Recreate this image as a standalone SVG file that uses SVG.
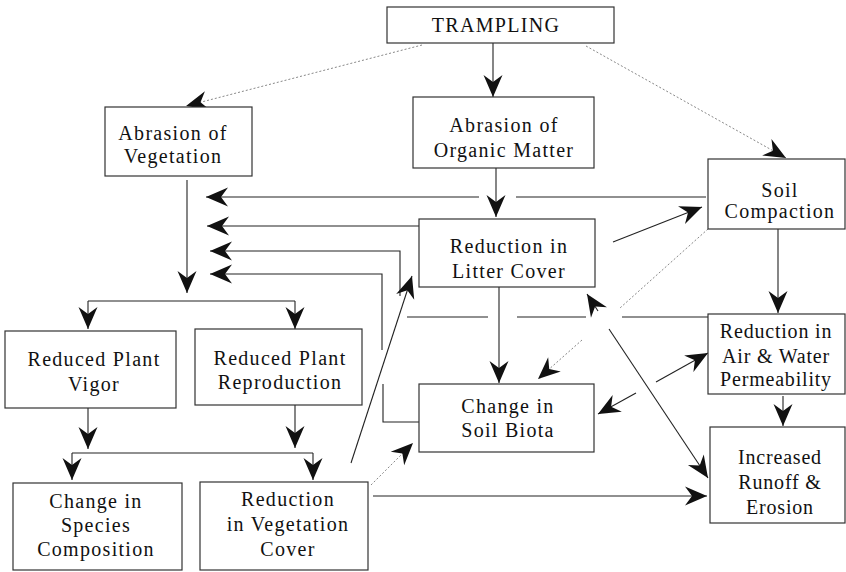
<svg xmlns="http://www.w3.org/2000/svg" width="846" height="572" viewBox="0 0 846 572">
<defs>
<marker id="ah" viewBox="-24 -12 26 24" refX="0" refY="0" markerWidth="26" markerHeight="24" markerUnits="userSpaceOnUse" orient="auto-start-reverse">
<path d="M0,0 L-22,-9.5 L-15,0 L-22,9.5 Z" fill="#111"/>
</marker>
<style>
.box{fill:#fff;stroke:#333;stroke-width:1.2}
.t{font-family:"Liberation Serif","Times New Roman",serif;font-size:20px;fill:#111;text-anchor:middle;letter-spacing:1.3px}
.tn{letter-spacing:0.8px}
.ln{fill:none;stroke:#222;stroke-width:1.1}
.dt{fill:none;stroke:#888;stroke-width:1;stroke-dasharray:2,2}
.arr{marker-end:url(#ah)}
.arr2{marker-start:url(#ah)}
</style>
</defs>
<rect width="846" height="572" fill="#fff"/>
<g id="connectors">
<path class="dt arr" d="M422,45 L186,106"/>
<path class="ln arr" d="M493,43 L493,97"/>
<path class="dt arr" d="M586,46 L786,158"/>
<path class="ln arr" d="M496,168 L496,217"/>
<path class="ln" d="M706,197 L516,197"/>
<path class="ln arr" d="M479,197 L206,197"/>
<path class="ln arr" d="M419,226 L207,226"/>
<path class="ln" d="M708,317 L622,317 M586,317 L517,317 M488,317 L407,317"/>
<path class="ln arr" d="M400,296 L400,251 L210,251"/>
<path class="ln" d="M419,422 L383,422 L383,384"/>
<path class="ln arr" d="M382,350 L382,274 L210,274"/>
<path class="ln arr" d="M187,180 L187,293"/>
<path class="ln" d="M88,301 L295,301"/>
<path class="ln arr" d="M88,301 L88,329"/>
<path class="ln arr" d="M295,301 L295,329"/>
<path class="ln arr" d="M88,408 L88,449"/>
<path class="ln arr" d="M295,405 L295,448"/>
<path class="ln" d="M72,453 L313,453"/>
<path class="ln arr" d="M72,453 L72,480"/>
<path class="ln arr" d="M313,453 L313,480"/>
<path class="ln arr" d="M351,463 L412,276"/>
<path class="dt arr" d="M371,485 L413,443"/>
<path class="ln arr" d="M373,496 L707,496"/>
<path class="ln arr" d="M613,242 L702,207"/>
<path class="ln arr" d="M499,287 L499,383"/>
<path class="dt" d="M708,229 L620,308"/>
<path class="dt arr" d="M582,340 L538,379"/>
<path class="ln arr2" d="M587,294 L598,311"/>
<path class="ln arr" d="M609,329 L708,478"/>
<path class="ln arr2" d="M598,414 L636,393"/>
<path class="ln arr" d="M656,382 L708,353"/>
<path class="ln arr" d="M778,229 L778,313"/>
<path class="ln arr" d="M783,396 L783,426"/>
</g>
<g id="trampling"><rect class="box" x="387" y="7" width="227" height="36"/><text class="t" x="496" y="32">TRAMPLING</text></g>
<g id="abrasion-vegetation"><rect class="box" x="105" y="107" width="147" height="69"/><text class="t" x="173" y="140">Abrasion of</text><text class="t" x="173" y="163">Vegetation</text></g>
<g id="abrasion-organic"><rect class="box" x="413" y="97" width="181" height="71"/><text class="t" x="504" y="132">Abrasion of</text><text class="t" x="504" y="157">Organic Matter</text></g>
<g id="soil-compaction"><rect class="box" x="708" y="159" width="137" height="70"/><text class="t" x="780" y="197">Soil</text><text class="t" x="780" y="218">Compaction</text></g>
<g id="litter-cover"><rect class="box" x="419" y="219" width="176" height="68"/><text class="t" x="509" y="253">Reduction in</text><text class="t" x="509" y="278">Litter Cover</text></g>
<g id="plant-vigor"><rect class="box" x="5" y="331" width="171" height="77"/><text class="t" x="94" y="366">Reduced Plant</text><text class="t" x="94" y="391">Vigor</text></g>
<g id="plant-reproduction"><rect class="box" x="195" y="329" width="167" height="76"/><text class="t" x="280" y="365">Reduced Plant</text><text class="t" x="280" y="389">Reproduction</text></g>
<g id="species-composition"><rect class="box" x="13" y="483" width="169" height="87"/><text class="t" x="96" y="508">Change in</text><text class="t" x="96" y="532">Species</text><text class="t" x="96" y="556">Composition</text></g>
<g id="vegetation-cover"><rect class="box" x="200" y="482" width="168" height="88"/><text class="t" x="288" y="506">Reduction</text><text class="t" x="288" y="531">in Vegetation</text><text class="t" x="288" y="556">Cover</text></g>
<g id="soil-biota"><rect class="box" x="419" y="384" width="175" height="68"/><text class="t" x="508" y="413">Change in</text><text class="t" x="508" y="437">Soil Biota</text></g>
<g id="air-water"><rect class="box" x="708" y="314" width="137" height="80"/><text class="t tn" x="776" y="338">Reduction in</text><text class="t tn" x="776" y="363">Air &amp; Water</text><text class="t tn" x="776" y="386">Permeability</text></g>
<g id="runoff-erosion"><rect class="box" x="710" y="427" width="135" height="96"/><text class="t tn" x="780" y="464">Increased</text><text class="t tn" x="780" y="489">Runoff &amp;</text><text class="t tn" x="780" y="514">Erosion</text></g>
</svg>
